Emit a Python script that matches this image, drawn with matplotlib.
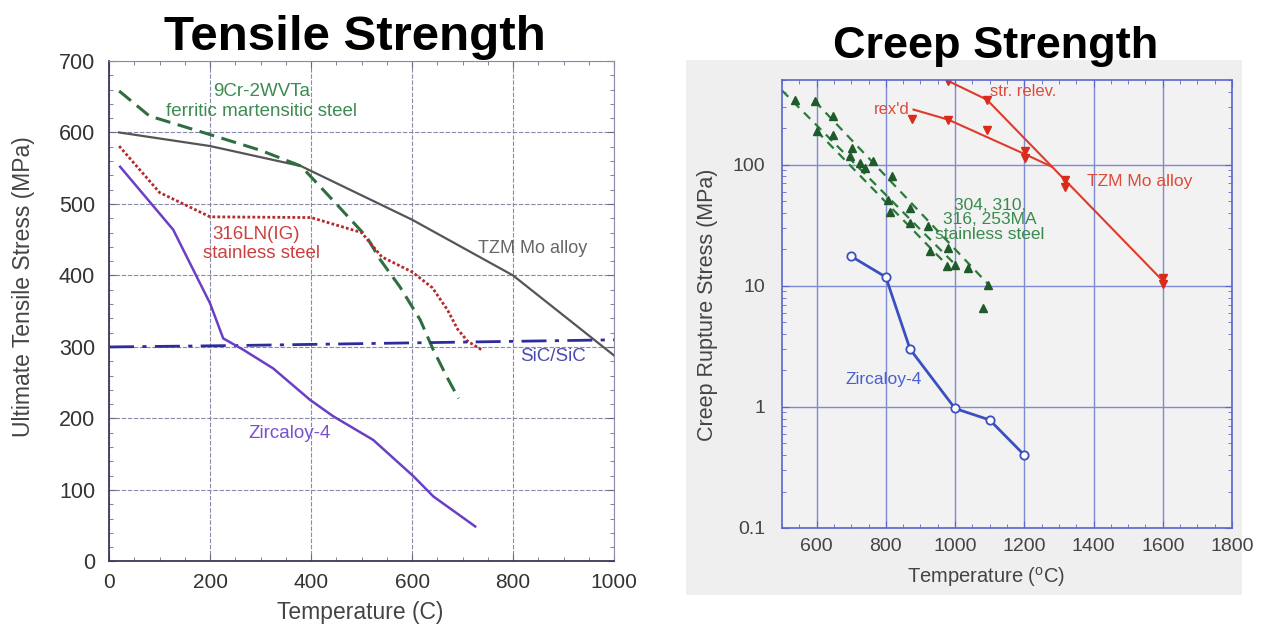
import numpy as np
import matplotlib.pyplot as plt
from matplotlib.patches import Rectangle
from matplotlib.ticker import MultipleLocator, FixedLocator, FixedFormatter, LogLocator, NullFormatter

plt.rcParams['font.family'] = ['Liberation Sans', 'DejaVu Sans']
plt.rcParams['mathtext.fontset'] = 'custom'
plt.rcParams['mathtext.rm'] = 'Liberation Sans'

# --- tensile strength (MPa) vs temperature (C) ---
tzm_t = [20, 200, 380, 600, 800, 1000]
tzm_s = [600, 581, 553, 478, 400, 288]
fm_t = [20, 80, 200, 300, 380, 450, 510, 537, 576, 616, 642, 669, 692]
fm_s = [658, 623, 597, 575, 553, 500, 454, 422, 384, 338, 296, 258, 228]
ss_t = [20, 100, 200, 400, 500, 540, 600, 640, 670, 690, 710, 740]
ss_s = [581, 516, 482, 481, 460, 426, 405, 383, 352, 325, 308, 295]
sic_t = [0, 250, 1000]
sic_s = [300, 302, 310]
zr_t = [22, 127, 200, 226, 266, 325, 398, 444, 523, 603, 642, 725]
zr_s = [552, 464, 361, 312, 296, 270, 226, 203, 170, 119, 91, 49]

# --- creep rupture stress (MPa) vs temperature (oC) ---
rel_t = [981, 1092, 1600]
rel_s = [490, 344, 11]
rex_t = [880, 981, 1202, 1280]
rex_s = [285, 235, 122, 96]
mo_pt_t = [981, 1092, 875, 981, 1092, 1202, 1202, 1318, 1318, 1600, 1600]
mo_pt_s = [490, 344, 236, 232, 195, 129, 114, 75, 66, 11.6, 10.4]

st_pt_t = [538, 595, 648, 600, 648, 701, 697, 725, 740, 764, 817, 807, 812,
           870, 870, 923, 981, 928, 976, 1000, 1038, 1096, 1082]
st_pt_s = [345, 334, 251, 188, 177, 137, 117, 103, 94, 108, 80, 51, 41,
           44, 33, 31, 20.5, 19.2, 14.6, 14.9, 14, 10.2, 6.5]
st1_t, st1_s = [500, 1000], [410, 15]
st2_t, st2_s = [595, 1100], [334, 10]
st3_t, st3_s = [600, 980], [190, 14.5]

zc_t = [700, 800, 870, 1000, 1100, 1200]
zc_s = [17.5, 11.8, 3.0, 0.97, 0.78, 0.40]

fig = plt.figure(figsize=(12.68, 6.33), dpi=100)
fig.patches.append(Rectangle((0.541, 0.060), 0.4385, 0.845, transform=fig.transFigure,
                             facecolor='#efefef', edgecolor='none', zorder=-5))

# ---------------- left panel ----------------
ax1 = fig.add_axes([0.086, 0.113, 0.3983, 0.7907])
ax1.plot(tzm_t, tzm_s, color='#555555', lw=1.6)
ax1.plot(fm_t, fm_s, color='#2f6e40', lw=2.2, ls=(0, (5, 2.5)))
ax1.plot(ss_t, ss_s, color='#b52a2a', lw=2.0, ls=(0, (1, 0.8)))
ax1.plot(sic_t, sic_s, color='#2c2c9a', lw=2.0, ls=(0, (9, 3, 1.5, 3)))
ax1.plot(zr_t, zr_s, color='#6a3fc4', lw=1.8)

ax1.text(302, 657, '9Cr-2WVTa', color='#3d8a52', fontsize=13.5, ha='center', va='center')
ax1.text(302, 629, 'ferritic martensitic steel', color='#3d8a52', fontsize=13.5, ha='center', va='center')
ax1.text(292, 457, '316LN(IG)', color='#cc4040', fontsize=13.5, ha='center', va='center')
ax1.text(301, 431, 'stainless steel', color='#cc4040', fontsize=13.5, ha='center', va='center')
ax1.text(731, 438, 'TZM Mo alloy', color='#666666', fontsize=13, ha='left', va='center')
ax1.text(814, 286, 'SiC/SiC', color='#4a4ab0', fontsize=13.5, ha='left', va='center')
ax1.text(358, 179, 'Zircaloy-4', color='#7a4fd0', fontsize=13.5, ha='center', va='center')

ax1.set_xlim(0, 1000)
ax1.set_ylim(0, 700)
ax1.xaxis.set_major_locator(MultipleLocator(200))
ax1.xaxis.set_minor_locator(MultipleLocator(50))
ax1.yaxis.set_major_locator(MultipleLocator(100))
ax1.yaxis.set_minor_locator(MultipleLocator(20))
ax1.grid(True, which='major', color='#8a8aaa', lw=0.8, ls=(0, (4, 1.5)))
ax1.set_axisbelow(True)
ax1.tick_params(which='both', direction='in', top=True, right=True, colors='#6a6a8a')
ax1.tick_params(which='major', length=5)
ax1.tick_params(which='minor', length=3)
ax1.tick_params(axis='y', labelsize=15.5, labelcolor='#333333', pad=10)
ax1.tick_params(axis='x', labelsize=15, labelcolor='#333333', pad=8)
for side in ['top', 'right']:
    ax1.spines[side].set_color('#8a8aaa')
for side in ['left', 'bottom']:
    ax1.spines[side].set_color('#3a3a5a')
    ax1.spines[side].set_linewidth(1.3)

fig.text(24 / 1268, 1 - 287 / 633, 'Ultimate Tensile Stress (MPa)', rotation=90,
         ha='center', va='center', fontsize=16.5, color='#444444')
fig.text(360 / 1268, 1 - 612 / 633, 'Temperature (C)', ha='center', va='center',
         fontsize=16.5, color='#444444')
fig.text(355 / 1268, 1 - 50 / 633, 'Tensile Strength', ha='center', va='baseline',
         fontsize=35.5, fontweight='bold', color='black')

# ---------------- right panel ----------------
ax2 = fig.add_axes([0.6167, 0.1659, 0.3549, 0.7077])
ax2.set_facecolor('#f2f2f2')
ax2.set_yscale('log')

ax2.plot(rel_t, rel_s, color='#e03a2a', lw=1.5)
ax2.plot(rex_t, rex_s, color='#e03a2a', lw=1.5)
ax2.plot(mo_pt_t, mo_pt_s, ls='none', marker='v', ms=6, color='#d92a1c')

for tt, ss in [(st1_t, st1_s), (st2_t, st2_s), (st3_t, st3_s)]:
    ax2.plot(tt, ss, color='#2a7a3a', lw=1.6, ls=(0, (4, 3)))
ax2.plot(st_pt_t, st_pt_s, ls='none', marker='^', ms=5.5, color='#1f5a2a')

ax2.plot(zc_t, zc_s, color='#3a4fc0', lw=2, marker='o', ms=6,
         markerfacecolor='white', markeredgecolor='#3a4fc0', markeredgewidth=1.3)

ax2.text(1100, 400, 'str. relev.', color='#e04a3a', fontsize=12, ha='left', va='center')
ax2.text(870, 285, "rex'd", color='#e04a3a', fontsize=12, ha='right', va='center')
ax2.text(1380, 73, 'TZM Mo alloy', color='#e04a3a', fontsize=12.5, ha='left', va='center')
ax2.text(1100, 35, '304, 310,\n316, 253MA\nstainless steel', color='#3a8a4e',
         fontsize=12.5, ha='center', va='center', linespacing=0.95)
ax2.text(795, 1.67, 'Zircaloy-4', color='#4a5fd0', fontsize=12.5, ha='center', va='center')

ax2.set_xlim(500, 1800)
ax2.set_ylim(0.1, 500)
ax2.xaxis.set_major_locator(MultipleLocator(200))
ax2.xaxis.set_minor_locator(MultipleLocator(50))
ax2.yaxis.set_major_locator(FixedLocator([0.1, 1, 10, 100]))
ax2.yaxis.set_major_formatter(FixedFormatter(['0.1', '1', '10', '100']))
ax2.yaxis.set_minor_locator(LogLocator(base=10, subs=np.arange(2, 10)))
ax2.yaxis.set_minor_formatter(NullFormatter())
ax2.grid(True, which='major', color='#7f8ad4', lw=1.0)
ax2.set_axisbelow(True)
ax2.tick_params(which='both', direction='in', top=True, right=True, colors='#5a66d0')
ax2.tick_params(which='major', length=5)
ax2.tick_params(which='minor', length=3)
ax2.tick_params(axis='both', labelsize=14, labelcolor='#444444')
ax2.tick_params(axis='y', pad=12)
ax2.tick_params(axis='x', pad=7)
for side in ax2.spines:
    ax2.spines[side].set_color('#5a66d0')
    ax2.spines[side].set_linewidth(1.2)

fig.text(707 / 1268, 1 - 305 / 633, 'Creep Rupture Stress (MPa)', rotation=90,
         ha='center', va='center', fontsize=15.5, color='#444444')
fig.text(986 / 1268, 1 - 577 / 633, r'Temperature ($^{\rm o}$C)', ha='center', va='center',
         fontsize=14.5, color='#444444')
fig.text(996 / 1268, 1 - 58 / 633, 'Creep Strength', ha='center', va='baseline',
         fontsize=32.5, fontweight='bold', color='black')

fig.savefig('out.png', dpi=100)
